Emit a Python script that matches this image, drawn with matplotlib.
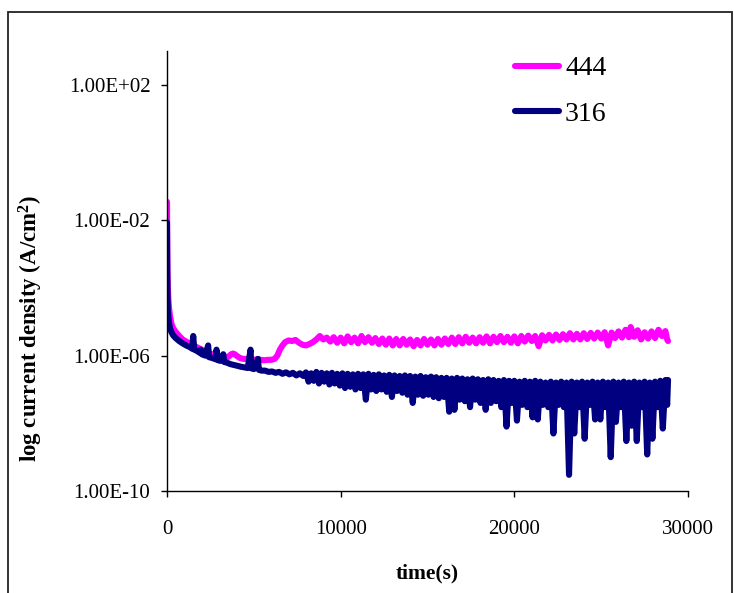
import matplotlib
matplotlib.use("Agg")
import matplotlib.pyplot as plt
from matplotlib.patches import Rectangle
from matplotlib.ticker import FuncFormatter, NullLocator

plt.rcParams['font.family'] = ['Liberation Serif', 'DejaVu Serif']
plt.rcParams['mathtext.default'] = 'regular'

# alloy 444
t_444 = [0, 5, 15, 30, 50, 80, 120, 170, 250, 350,
         500, 700, 900, 1100, 1300, 1500, 1700, 1900, 2100, 2300,
         2500, 2700, 2900, 3100, 3300, 3500, 3700, 3800, 3900, 4000,
         4200, 4400, 4600, 4800, 5000, 5200, 5400, 5600, 5800, 6000,
         6200, 6350, 6500, 6650, 6800, 7000, 7200, 7400, 7600, 7800,
         8000, 8200, 8400, 8600, 8800, 9000, 9200, 9400, 9600, 9800,
         10000, 10200, 10400, 10600, 10800, 11000, 11200, 11400, 11600, 11800,
         12000, 12200, 12400, 12600, 12800, 13000, 13200, 13400, 13600, 13800,
         14000, 14200, 14400, 14600, 14800, 15000, 15200, 15400, 15600, 15800,
         16000, 16200, 16400, 16600, 16800, 17000, 17200, 17400, 17600, 17800,
         18000, 18200, 18400, 18600, 18800, 19000, 19200, 19400, 19600, 19800,
         20000, 20200, 20400, 20600, 20800, 21000, 21200, 21400, 21600, 21800,
         22000, 22200, 22400, 22600, 22800, 23000, 23200, 23400, 23600, 23800,
         24000, 24200, 24400, 24600, 24800, 25000, 25200, 25400, 25600, 25800,
         26000, 26200, 26400, 26600, 26700, 26900, 27100, 27300, 27500, 27700,
         27900, 28100, 28300, 28500, 28700, 28800, 28850]
j_444 = [3.5e-2, 8e-3, 1.5e-3, 3e-4, 1e-4, 4.5e-5, 2.5e-5, 1.5e-5, 9e-6, 6.5e-6,
         5e-6, 3.8e-6, 3e-6, 2.6e-6, 2.3e-6, 2e-6, 1.8e-6, 1.6e-6, 1.4e-6, 1.3e-6,
         1.15e-6, 1.05e-6, 1e-6, 9.5e-7, 9e-7, 9e-7, 1.1e-6, 1.15e-6, 1.1e-6, 1e-6,
         8.5e-7, 8e-7, 8e-7, 7.5e-7, 7.5e-7, 7.8e-7, 7.5e-7, 7.3e-7, 7.5e-7, 7.5e-7,
         8e-7, 1e-6, 1.5e-6, 2e-6, 2.5e-6, 2.8e-6, 2.7e-6, 2.9e-6, 2.4e-6, 2.1e-6,
         2e-6, 2.2e-6, 2.5e-6, 3e-6, 3.8e-6, 3e-6, 3.4e-6, 2.6e-6, 3.5e-6, 2.4e-6,
         3.4e-6, 2.3e-6, 3.7e-6, 2.5e-6, 3.4e-6, 2.3e-6, 3.8e-6, 2.5e-6, 3.5e-6, 2.4e-6,
         3.3e-6, 2.2e-6, 3.2e-6, 2.1e-6, 3.2e-6, 2e-6, 3.1e-6, 2e-6, 3.1e-6, 2.1e-6,
         3e-6, 1.9e-6, 2.9e-6, 2e-6, 3.1e-6, 2.1e-6, 3e-6, 2e-6, 3.1e-6, 2.1e-6,
         3.2e-6, 2.2e-6, 3.4e-6, 2.2e-6, 3.5e-6, 2.3e-6, 3.6e-6, 2.4e-6, 3.4e-6, 2.3e-6,
         3.5e-6, 2.4e-6, 3.7e-6, 2.3e-6, 3.6e-6, 2.5e-6, 3.8e-6, 2.5e-6, 3.6e-6, 2.4e-6,
         3.7e-6, 2.3e-6, 3.8e-6, 2.6e-6, 3.9e-6, 2.7e-6, 3.8e-6, 1.9e-6, 4e-6, 2.8e-6,
         4.1e-6, 2.8e-6, 4.2e-6, 2.9e-6, 4.3e-6, 3e-6, 4.6e-6, 3e-6, 4.4e-6, 3e-6,
         4.6e-6, 3.1e-6, 4.7e-6, 3.2e-6, 4.8e-6, 3.2e-6, 4.9e-6, 2e-6, 4.8e-6, 3.3e-6,
         5.2e-6, 3.4e-6, 5.8e-6, 3.5e-6, 7e-6, 3.6e-6, 5.6e-6, 3e-6, 4.9e-6, 3.2e-6,
         5.2e-6, 3.3e-6, 5.8e-6, 3.8e-6, 5.3e-6, 3e-6, 2.7e-6]

# alloy 316
t_316 = [0, 5, 15, 30, 50, 80, 120, 170, 250, 350,
         500, 700, 900, 1100, 1300, 1450, 1510, 1570, 1700, 1900,
         1950, 2000, 2200, 2370, 2420, 2600, 2800, 2850, 2900, 3050,
         3240, 3290, 3450, 3650, 3850, 4050, 4250, 4450, 4650, 4810,
         4860, 5000, 5240, 5290, 5450, 5650, 5850, 6050, 6250, 6450,
         6650, 6850, 7050, 7250, 7450, 7650, 7850,
         8000, 8150, 8300, 8450, 8600, 8750, 8900, 9050, 9200, 9350,
         9500, 9650, 9800, 9950, 10100, 10250, 10400, 10550, 10700, 10850,
         11000, 11150, 11300, 11450, 11600, 11750, 11900, 12050, 12200, 12350,
         12500, 12650, 12800, 12950, 13100, 13250, 13400, 13550, 13700, 13850,
         14000, 14150, 14300, 14450, 14600, 14750, 14900, 15050, 15200, 15350,
         15500, 15650, 15800, 15950, 16100, 16250, 16400, 16550, 16700, 16850,
         17000, 17150, 17300, 17450, 17600, 17750, 17900, 18050, 18200, 18350,
         18500, 18650, 18800, 18950, 19100, 19250, 19400, 19550, 19700, 19850,
         20000, 20150, 20300, 20450, 20600, 20750, 20900, 21050, 21200, 21350,
         21500, 21650, 21800, 21950, 22100, 22250, 22400, 22550, 22700, 22850,
         23000, 23150, 23300, 23450, 23600, 23750, 23900, 24050, 24200, 24350,
         24500, 24650, 24800, 24950, 25100, 25250, 25400, 25550, 25700, 25850,
         26000, 26150, 26300, 26450, 26600, 26750, 26900, 27050, 27200, 27350,
         27500, 27650, 27800, 27950, 28100, 28250, 28400, 28550, 28700, 28800,
         28850]
j_316 = [8.5e-3, 1.5e-3, 2.5e-4, 6e-5, 2.5e-5, 1.4e-5, 9e-6, 6.5e-6, 5e-6, 4e-6,
         3.3e-6, 2.7e-6, 2.3e-6, 2e-6, 1.8e-6, 1.6e-6, 3.8e-6, 1.5e-6, 1.4e-6, 1.2e-6,
         1.5e-6, 1.1e-6, 1e-6, 2e-6, 9e-7, 8.5e-7, 7.8e-7, 1.5e-6, 7.5e-7, 7e-7,
         1.1e-6, 6.5e-7, 6.2e-7, 5.6e-7, 5.3e-7, 5e-7, 4.7e-7, 4.5e-7, 4.3e-7, 1.5e-6,
         4.2e-7, 4e-7, 8e-7, 3.8e-7, 3.6e-7, 3.6e-7, 3.3e-7, 3.4e-7, 3.1e-7, 3.3e-7,
         2.9e-7, 3.2e-7, 2.8e-7, 3.1e-7, 2.6e-7, 3e-7, 2.5e-7,
         3.2e-7, 1.7e-7, 3.0e-7, 1.8e-7, 3.3e-7, 1.5e-7, 3.1e-7, 1.7e-7, 3.0e-7, 1.4e-7,
         3.1e-7, 1.5e-7, 2.9e-7, 1.3e-7, 3.0e-7, 1.1e-7, 2.9e-7, 1.2e-7, 2.8e-7, 1e-7,
         2.9e-7, 1.1e-7, 2.8e-7, 5e-8, 2.9e-7, 1e-7, 2.7e-7, 9e-8, 2.8e-7, 1e-7,
         2.6e-7, 8.5e-8, 2.7e-7, 6e-8, 2.6e-7, 9e-8, 2.5e-7, 8e-8, 2.6e-7, 7e-8,
         2.5e-7, 4e-8, 2.4e-7, 7e-8, 2.5e-7, 6.5e-8, 2.3e-7, 7e-8, 2.4e-7, 6e-8,
         2.3e-7, 5.5e-8, 2.2e-7, 6e-8, 2.2e-7, 2.2e-8, 2.1e-7, 2.5e-8, 2.2e-7, 5e-8,
         2.1e-7, 4.5e-8, 2e-7, 3e-8, 2.1e-7, 5e-8, 2e-7, 4e-8, 1.9e-7, 2.5e-8,
         2e-7, 4e-8, 1.9e-7, 4.5e-8, 1.8e-7, 3e-8, 1.9e-7, 8e-9, 1.8e-7, 4e-8,
         1.8e-7, 1.2e-8, 1.7e-7, 3.5e-8, 1.8e-7, 3e-8, 1.7e-7, 1.5e-8, 1.8e-7, 1.3e-8,
         1.7e-7, 3.5e-8, 1.6e-7, 3e-8, 1.7e-7, 5e-9, 1.6e-7, 3.5e-8, 1.7e-7, 3e-8,
         1.6e-7, 3e-10, 1.7e-7, 5e-9, 1.6e-7, 3e-8, 1.7e-7, 3.5e-9, 1.6e-7, 3.5e-8,
         1.7e-7, 1.3e-8, 1.6e-7, 1.3e-8, 1.7e-7, 3e-8, 1.6e-7, 1e-9, 1.7e-7, 1.1e-8,
         1.6e-7, 3e-8, 1.7e-7, 3e-9, 1.6e-7, 8.5e-9, 1.7e-7, 3e-9, 1.6e-7, 3e-8,
         1.7e-7, 1.2e-9, 1.6e-7, 3.5e-9, 1.7e-7, 3e-8, 1.8e-7, 7e-9, 1.9e-7, 3.5e-8,
         1.9e-7]

x_ticks = [0, 10000, 20000, 30000]
y_ticks = [1e-10, 1e-6, 1e-2, 1e2]

fig = plt.figure(figsize=(7.34, 5.93), dpi=100)
ax = fig.add_axes([167 / 734, 1 - 491 / 593, (688 - 167) / 734, (491 - 51) / 593])

ax.plot(t_444, j_444, color='#FF00FF', lw=4.4, solid_capstyle='round',
        solid_joinstyle='round', label='444')
ax.plot(t_316, j_316, color='#000080', lw=4.4, solid_capstyle='round',
        solid_joinstyle='round', label='316')

ax.set_yscale('log')
ax.set_xlim(0, 30000)
ax.set_ylim(1e-10, 1e3)
ax.set_xticks(x_ticks)
ax.set_yticks(y_ticks)
ax.yaxis.set_minor_locator(NullLocator())
ax.yaxis.set_major_formatter(FuncFormatter(lambda v, p: f"{v:.2E}"))
ax.tick_params(axis='both', direction='out', length=4, width=1, labelsize=15,
               colors='black')
ax.tick_params(axis='y', pad=8)
ax.tick_params(axis='x', pad=17)

for side in ('top', 'right'):
    ax.spines[side].set_visible(False)
for side in ('left', 'bottom'):
    ax.spines[side].set_linewidth(1)
    ax.spines[side].set_color('black')

ax.set_xlabel('time(s)', fontsize=15.5, fontweight='bold')
ax.xaxis.set_label_coords(0.5, -0.165)
ax.set_ylabel('log current density (A/cm$^2$)', fontsize=16.5, fontweight='bold')
ax.yaxis.set_label_coords(-0.235, 0.37)

fig.legend(loc='upper left', bbox_to_anchor=(515 / 734, 1 - 56 / 593),
           frameon=False, fontsize=20, handlelength=1.6, handletextpad=0.2,
           labelspacing=0.72, borderpad=0, borderaxespad=0)

# chart area border
fig.add_artist(Rectangle((8 / 734, -0.05), (732 - 8) / 734, 1.05 - 12 / 593,
                         transform=fig.transFigure, fill=False,
                         edgecolor='#222222', lw=1.3))

fig.savefig('out.png', dpi=100)
